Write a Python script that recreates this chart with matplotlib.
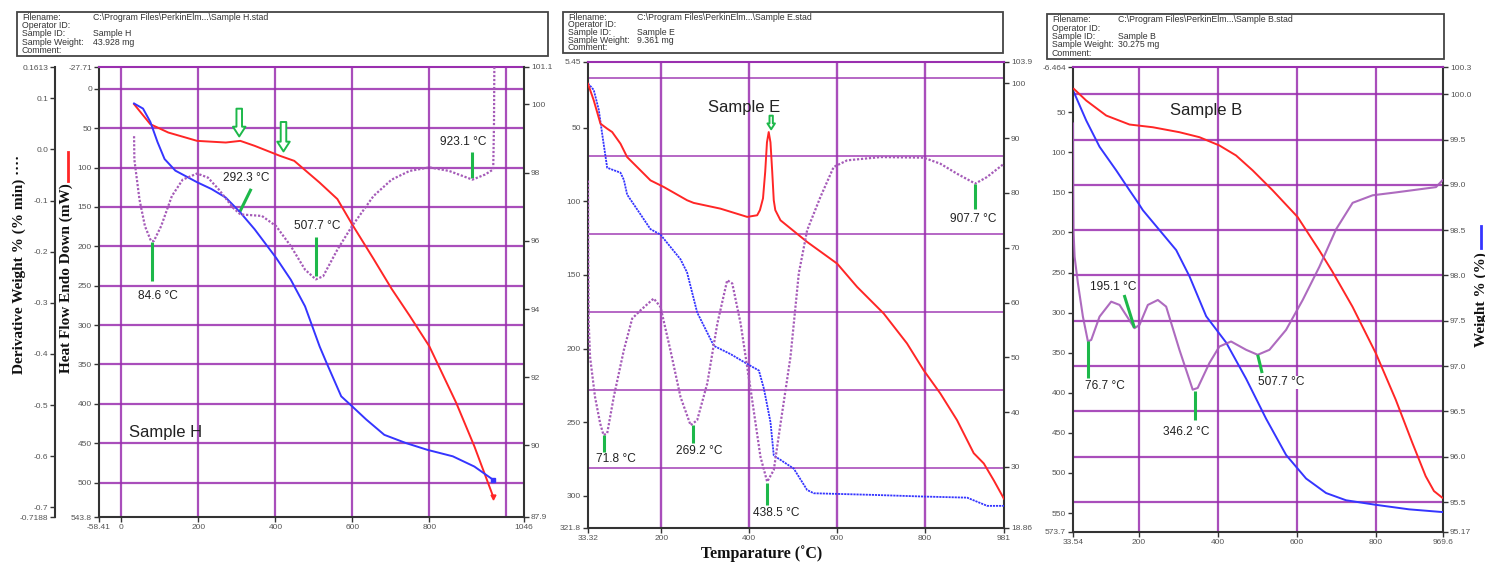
import matplotlib
matplotlib.use('Agg')
import matplotlib.pyplot as plt
from matplotlib.lines import Line2D
from matplotlib.patches import Rectangle

# ---------------- data: Sample H ----------------
h_red_T = [32.7, 74.9, 121.6, 196.5, 271, 308.8, 346, 411.7, 449, 514.6, 561, 599, 655, 702, 748.6, 800, 870, 917, 966]
h_red_hf = [19.5, 44.9, 55.5, 66.1, 68.2, 66.1, 72.4, 85.1, 91.5, 119, 140, 171.8, 216, 254, 288, 327, 399, 454, 518]
h_blue_T = [32.7, 56, 75, 93.6, 112, 140, 196.5, 234, 271, 309, 346, 402, 440, 477, 515, 533, 571, 599, 636, 683, 739, 795, 861, 917, 966]
h_blue_W = [100.03, 99.88, 99.49, 98.9, 98.4, 98.06, 97.72, 97.52, 97.27, 96.83, 96.34, 95.5, 94.86, 94.08, 92.9, 92.42, 91.44, 91.15, 90.76, 90.31, 90.07, 89.87, 89.68, 89.38, 88.99]
h_der_T = [32.7, 33.5, 46.8, 61, 76.7, 84.2, 103, 131, 159, 196.5, 224.6, 252.6, 290, 309, 365, 402, 440, 477, 505, 524, 561, 599, 655, 702, 748.6, 800, 851.5, 912, 945, 966, 968, 969]
h_der_d = [0.026, -0.02, -0.098, -0.15, -0.179, -0.179, -0.15, -0.091, -0.059, -0.047, -0.055, -0.078, -0.114, -0.127, -0.13, -0.15, -0.189, -0.235, -0.254, -0.248, -0.196, -0.15, -0.091, -0.059, -0.042, -0.035, -0.042, -0.059, -0.049, -0.039, 0.05, 0.17]
h_ann_text = ["84.6 °C", "292.3 °C", "507.7 °C", "923.1 °C"]
h_ann_T = [93.6, 323, 508, 889]
h_ann_hf = [262.8, 113, 174, 67]
h_tick_T1 = [79.5, 337, 505, 912]
h_tick_hf1 = [195, 127, 188.7, 80]
h_tick_T2 = [79.5, 307, 505, 912]
h_tick_hf2 = [243.7, 156.7, 237.4, 112.7]
h_arrow_T = [306, 421]
h_arrow_hf1 = [21.7, 38.6]
h_arrow_hf2 = [64, 83]
h_xticks = [-58.41, 0, 200, 400, 600, 800, 1046]
h_hfticks = [-27.71, 0, 50, 100, 150, 200, 250, 300, 350, 400, 450, 500, 543.8]
h_wticks = [87.9, 90, 92, 94, 96, 98, 100, 101.1]
h_dticks = [-0.7188, -0.7, -0.6, -0.5, -0.4, -0.3, -0.2, -0.1, 0.0, 0.1, 0.1613]
h_dlabels = ["-0.7188", "-0.7", "-0.6", "-0.5", "-0.4", "-0.3", "-0.2", "-0.1", "0.0", "0.1", "0.1613"]

# ---------------- data: Sample E ----------------
e_red_T = [33.3, 46.4, 61.7, 77, 88.4, 107.3, 122.5, 152.8, 175.6, 206, 259, 274, 335, 396, 418.7, 425, 432, 437, 441, 445, 449, 453, 456.5, 460, 471.8, 532.5, 600.8, 646.3, 707, 760, 798, 836, 874, 912, 935, 958, 981]
e_red_hf = [20.2, 31.5, 47.3, 50.7, 53, 60.9, 70, 79, 85.8, 90.3, 99.3, 101.1, 105, 110.6, 109.5, 106, 98, 80, 60, 53, 60, 80, 99.3, 106, 112.9, 127.6, 142.3, 158.1, 176.2, 196.5, 214.7, 230.5, 248.6, 271, 278, 289.6, 302]
e_blue_T = [33.3, 46.4, 57.8, 65.4, 77, 107.3, 115, 122.5, 145.3, 175.6, 198.4, 244, 259, 282, 320, 358, 396, 422.6, 434, 449, 456.5, 502, 532.5, 547.7, 684, 798, 897, 927.5, 942.7, 981]
e_blue_W = [100.0, 98.8, 95.2, 90.9, 84.6, 83.7, 82.4, 79.7, 77, 73.4, 72.4, 67.9, 65.5, 58.2, 52.1, 50.6, 48.8, 47.6, 44.3, 38.2, 32.1, 29.7, 25.8, 25.2, 24.9, 24.6, 24.4, 23.4, 22.9, 22.9]
e_der_T = [33.4, 34.0, 35.0, 38, 49.3, 61, 68.7, 77, 92, 115, 134, 153, 183, 198.4, 221, 244, 267, 282, 305, 328, 350.4, 362, 381, 404, 426.2, 441.5, 456.6, 472, 494.6, 513.5, 532.5, 562.9, 593, 623.8, 699.7, 798, 836, 874, 915.6, 942, 981]
e_der_hf = [86, 140, 183, 205.6, 232.8, 250.8, 258.7, 257.6, 232.8, 201, 179.6, 174, 166, 171.7, 201, 232.8, 252, 248.6, 223.7, 183, 153.6, 155.8, 183, 228.2, 273.5, 290.4, 282.4, 250.8, 205.6, 149, 119.7, 97, 76.7, 72.2, 70, 70.4, 74.5, 81.3, 88, 83.6, 74.5]
e_ann_text = ["71.8 °C", "269.2 °C", "438.5 °C", "907.7 °C"]
e_ann_T = [96, 285.7, 462.7, 912]
e_ann_hf = [275.2, 269.4, 311.5, 111.7]
e_tick_T1 = [68.7, 271.5, 441.7, 915.6]
e_tick_hf1 = [259, 252, 291, 88]
e_tick_T2 = [68.7, 271.5, 441.7, 915.6]
e_tick_hf2 = [270, 264.4, 306.2, 105]
e_arrow_T = [450.6]
e_arrow_hf1 = [40]
e_arrow_hf2 = [53]
e_xticks = [33.32, 200, 400, 600, 800, 981]
e_hfticks = [5.45, 50, 100, 150, 200, 250, 300, 321.8]
e_wticks = [18.86, 30, 40, 50, 60, 70, 80, 90, 100, 103.9]
e_wgrid = [100.9, 86.7, 72.6, 58.3, 44.1, 29.9]

# ---------------- data: Sample B ----------------
b_red_T = [36, 67, 117.6, 176.5, 235.4, 302.8, 353.3, 403.8, 446, 488, 538.6, 601.6, 656.2, 690, 740.5, 799.5, 850, 892, 925.7, 946.7, 967.8]
b_red_hf = [20.9, 35.4, 54.1, 65.3, 68.7, 74.9, 81.1, 91.4, 103.9, 122.5, 147.4, 180.6, 222, 249, 292.5, 350.5, 408.6, 462.4, 504, 522.6, 530.9]
b_blue_T = [36, 67, 100.7, 142.8, 176.5, 200, 210.3, 252.5, 294.6, 328.3, 370.5, 421, 471.6, 522, 572.6, 623.2, 673.7, 724.3, 799.5, 883.7, 968]
b_blue_W = [100.02, 99.71, 99.42, 99.16, 98.94, 98.79, 98.72, 98.5, 98.28, 97.99, 97.55, 97.26, 96.86, 96.42, 96.02, 95.76, 95.6, 95.52, 95.47, 95.42, 95.39]
b_der_T = [33.6, 34.2, 35.0, 37.6, 46, 58.6, 71.3, 79.7, 100.7, 130.2, 151.3, 189.2, 201.8, 222.9, 248.2, 269.2, 302.8, 336.4, 349, 378.6, 403.8, 433.4, 471.6, 500.8, 530.5, 572.6, 614.7, 656.8, 699, 741, 791.6, 850.5, 951.9, 968]
b_der_hf = [64, 150, 200, 230.3, 263.4, 305, 336, 334, 305, 286.3, 290.4, 319.4, 315.3, 290.4, 284.2, 292.5, 346.4, 396.1, 394, 362.9, 342.3, 336, 346.4, 352.6, 346.4, 321.5, 284.2, 242.8, 196.1, 163, 153.6, 150, 143.4, 135]
b_ann_text = ["76.7 °C", "195.1 °C", "346.2 °C", "507.7 °C"]
b_ann_T = [114.3, 135, 320, 560]
b_ann_hf = [391, 268.4, 449.2, 387]
b_tick_T1 = [72, 163, 341.6, 500.8]
b_tick_hf1 = [336, 278, 397.4, 352.6]
b_tick_T2 = [72, 189, 341.6, 512]
b_tick_hf2 = [381.6, 319, 433.5, 375.4]
b_xticks = [33.54, 200, 400, 600, 800, 969.6]
b_hfticks = [-6.464, 50, 100, 150, 200, 250, 300, 350, 400, 450, 500, 550, 573.7]
b_wticks = [95.17, 95.5, 96.0, 96.5, 97.0, 97.5, 98.0, 98.5, 99.0, 99.5, 100.0, 100.3]
b_wlabels = ["95.17", "95.5", "96.0", "96.5", "97.0", "97.5", "98.0", "98.5", "99.0", "99.5", "100.0", "100.3"]
b_wgrid = [95.5, 96.0, 96.5, 97.0, 97.5, 98.0, 98.5, 99.0, 99.5, 100.0]

# ---------------- styling ----------------
W, H = 1485, 563
PURPLE = '#9A2FAF'
DER = '#A55BB8'
RED = '#FF2626'
BLUE = '#3535FF'
GREEN = '#1DB84A'
SANS = 'Liberation Sans'
SERIF = 'Liberation Serif'
plt.rcParams['font.family'] = [SANS, 'DejaVu Sans']

fig = plt.figure(figsize=(W / 100, H / 100), dpi=100)


def fx(px):
    return px / W


def fy(py):
    return 1 - py / H


def make_axes(l, t, r, b):
    return fig.add_axes([fx(l), fy(b), (r - l) / W, (b - t) / H])


def fmt(v):
    return '%g' % v


def style(ax):
    ax.tick_params(axis='both', direction='out', length=3.5, width=1, labelsize=6,
                   color='#333333', labelcolor='#555555', pad=1.5)
    for sp in ax.spines.values():
        sp.set_linewidth(1.5)
        sp.set_color('#333333')


def info_box(l, t, r, b, xval, values):
    fig.add_artist(Rectangle((fx(l), fy(b)), (r - l) / W, (b - t) / H, transform=fig.transFigure,
                             fill=False, ec='#444444', lw=1.3))
    labels = ['Filename:', 'Operator ID:', 'Sample ID:', 'Sample Weight:', 'Comment:']
    lh = (b - t - 3) / 5
    for i, (a, v) in enumerate(zip(labels, values)):
        y = t + 1.5 + lh * (i + 0.5)
        fig.text(fx(l + 5), fy(y), a, fontsize=6.3, va='center', color='#333333')
        fig.text(fx(xval), fy(y), v, fontsize=6.3, va='center', color='#333333')


def annotate(ax, texts, tx, ty, x1, y1, x2, y2):
    for s, x, y in zip(texts, tx, ty):
        ax.text(x, y, s, ha='center', va='center', fontsize=8.6, color='#222222', zorder=6,
                bbox=dict(fc='white', ec='none', pad=0.6))
    for a, b, c, d in zip(x1, y1, x2, y2):
        ax.plot([a, c], [b, d], color=GREEN, lw=2.2, solid_capstyle='butt', zorder=7)


def hollow_arrows(ax, xs, y1s, y2s, scale=1.0):
    for x, a, b in zip(xs, y1s, y2s):
        ax.annotate('', xy=(x, b), xytext=(x, a), zorder=8,
                    arrowprops=dict(arrowstyle='simple,head_width=%g,head_length=%g,tail_width=%g'
                                    % (0.9 * scale, 0.7 * scale, 0.4 * scale),
                                    fc='white', ec=GREEN, lw=1.4))


def set_ticks(axis_set, axis_lab, ticks, labels=None):
    axis_set(ticks)
    axis_lab(labels if labels is not None else [fmt(v) for v in ticks])


# ================= Panel H =================
info_box(17, 12, 548, 56, 93, [r"C:\Program Files\PerkinElm...\Sample H.stad", "", "Sample H", "43.928 mg", ""])
axH = make_axes(99, 67, 524, 517)
axHw = axH.twinx()
axHd = axH.twinx()
axH.set_zorder(0)
axHw.set_zorder(1)
axHd.set_zorder(2)
for a in (axHw, axHd):
    a.patch.set_visible(False)
for a in (axH, axHw, axHd):
    style(a)

axH.set_xlim(-58.41, 1046)
axH.set_ylim(543.8, -27.71)
set_ticks(axH.set_xticks, axH.set_xticklabels, h_xticks)
set_ticks(axH.set_yticks, axH.set_yticklabels, h_hfticks)
axH.spines['right'].set_visible(False)
axH.spines['top'].set_color(PURPLE)
for v in [0, 200, 400, 600, 800, 1000]:
    axH.axvline(v, color=PURPLE, lw=1.6, alpha=0.85, zorder=0)
for v in h_hfticks[1:-1]:
    axH.axhline(v, color=PURPLE, lw=1.6, alpha=0.85, zorder=0)
axH.plot(h_red_T, h_red_hf, color=RED, lw=1.4, zorder=3)
axH.plot(h_red_T[-1:], h_red_hf[-1:], 'v', color=RED, ms=3.5, zorder=3)
annotate(axH, h_ann_text, h_ann_T, h_ann_hf, h_tick_T1, h_tick_hf1, h_tick_T2, h_tick_hf2)
hollow_arrows(axH, h_arrow_T, h_arrow_hf1, h_arrow_hf2)
axH.text(19, 437, 'Sample H', fontsize=12, color='#222222', va='center', ha='left', zorder=6)

axHw.set_ylim(87.9, 101.1)
set_ticks(axHw.set_yticks, axHw.set_yticklabels, h_wticks)
for s in ('left', 'top', 'bottom'):
    axHw.spines[s].set_visible(False)
axHw.plot(h_blue_T, h_blue_W, color=BLUE, lw=1.4, zorder=3)
axHw.plot(h_blue_T[-1:], h_blue_W[-1:], 's', color=BLUE, ms=2.5, zorder=3)

axHd.set_ylim(-0.7188, 0.1613)
axHd.yaxis.set_ticks_position('left')
axHd.spines['left'].set_visible(True)
axHd.spines['left'].set_position(('outward', 31.5))
for s in ('right', 'top', 'bottom'):
    axHd.spines[s].set_visible(False)
set_ticks(axHd.set_yticks, axHd.set_yticklabels, h_dticks, h_dlabels)
axHd.plot(h_der_T, h_der_d, color=DER, lw=1.6, ls=(0, (1, 0.8)), zorder=3, clip_on=True)

fig.text(fx(19), fy(264), 'Derivative Weight % (% min) ····', rotation=90, ha='center', va='center',
         fontsize=11, fontweight='bold', family=SERIF, color='#111111')
fig.text(fx(66), fy(278), 'Heat Flow Endo Down (mW)', rotation=90, ha='center', va='center',
         fontsize=11, fontweight='bold', family=SERIF, color='#111111')
fig.add_artist(Line2D([fx(68), fx(68)], [fy(152), fy(181)], color=RED, lw=2, transform=fig.transFigure))

# ================= Panel E =================
info_box(563, 12, 1003, 53, 637, [r"C:\Program Files\PerkinElm...\Sample E.stad", "", "Sample E", "9.361 mg", ""])
axE = make_axes(588, 62, 1004, 528)
axEw = axE.twinx()
axEw.set_zorder(0)
axE.set_zorder(1)
axE.patch.set_visible(False)
for a in (axE, axEw):
    style(a)
axE.set_xlim(33.32, 981)
axE.set_ylim(321.8, 5.45)
set_ticks(axE.set_xticks, axE.set_xticklabels, e_xticks)
set_ticks(axE.set_yticks, axE.set_yticklabels, e_hfticks)
axE.spines['right'].set_visible(False)
axE.spines['top'].set_color(PURPLE)
axEw.set_ylim(18.86, 103.9)
set_ticks(axEw.set_yticks, axEw.set_yticklabels, e_wticks)
for s in ('left', 'top', 'bottom'):
    axEw.spines[s].set_visible(False)
for v in [200, 400, 600, 800]:
    axEw.axvline(v, color=PURPLE, lw=1.7, alpha=0.85, zorder=0)
for v in e_wgrid:
    axEw.axhline(v, color=PURPLE, lw=1.2, alpha=0.85, zorder=0)
axEw.plot(e_blue_T, e_blue_W, color=BLUE, lw=1.3, ls=(0, (1.2, 0.5)), zorder=3)
axE.plot(e_red_T, e_red_hf, color=RED, lw=1.4, zorder=3)
axE.plot(e_der_T, e_der_hf, color=DER, lw=1.6, ls=(0, (1, 0.8)), zorder=3)
annotate(axE, e_ann_text, e_ann_T, e_ann_hf, e_tick_T1, e_tick_hf1, e_tick_T2, e_tick_hf2)
hollow_arrows(axE, e_arrow_T, e_arrow_hf1, e_arrow_hf2, scale=0.6)
axE.text(389.8, 36, 'Sample E', fontsize=12, color='#222222', va='center', ha='center', zorder=6)

fig.text(fx(762), fy(554), 'Temparature (˚C)', ha='center', va='center', fontsize=11.5,
         fontweight='bold', family=[SERIF, 'DejaVu Serif'], color='#111111')

# ================= Panel B =================
info_box(1047, 14, 1444, 59, 1118, [r"C:\Program Files\PerkinElm...\Sample B.stad", "", "Sample B", "30.275 mg", ""])
axB = make_axes(1073, 67, 1443, 532)
axBw = axB.twinx()
axBw.set_zorder(0)
axB.set_zorder(1)
axB.patch.set_visible(False)
for a in (axB, axBw):
    style(a)
axB.set_xlim(33.54, 969.6)
axB.set_ylim(573.7, -6.464)
set_ticks(axB.set_xticks, axB.set_xticklabels, b_xticks)
set_ticks(axB.set_yticks, axB.set_yticklabels, b_hfticks)
axB.spines['right'].set_visible(False)
axB.spines['top'].set_color(PURPLE)
axBw.set_ylim(95.17, 100.3)
set_ticks(axBw.set_yticks, axBw.set_yticklabels, b_wticks, b_wlabels)
for s in ('left', 'top', 'bottom'):
    axBw.spines[s].set_visible(False)
for v in [200, 400, 600, 800]:
    axBw.axvline(v, color=PURPLE, lw=1.6, alpha=0.85, zorder=0)
for v in b_wgrid:
    axBw.axhline(v, color=PURPLE, lw=1.6, alpha=0.85, zorder=0)
axBw.plot(b_blue_T, b_blue_W, color=BLUE, lw=1.4, zorder=3)
axB.plot(b_red_T, b_red_hf, color=RED, lw=1.4, zorder=3)
axB.plot(b_der_T, b_der_hf, color=DER, lw=1.5, alpha=0.9, zorder=3)
annotate(axB, b_ann_text, b_ann_T, b_ann_hf, b_tick_T1, b_tick_hf1, b_tick_T2, b_tick_hf2)
axB.text(370.5, 47.9, 'Sample B', fontsize=12, color='#222222', va='center', ha='center', zorder=6)

fig.text(fx(1481), fy(300), 'Weight % (%)', rotation=90, ha='center', va='center', fontsize=11,
         fontweight='bold', family=SERIF, color='#111111')
fig.add_artist(Line2D([fx(1481), fx(1481)], [fy(226), fy(248)], color=BLUE, lw=2, transform=fig.transFigure))

fig.savefig('out.png', dpi=100, facecolor='white')
